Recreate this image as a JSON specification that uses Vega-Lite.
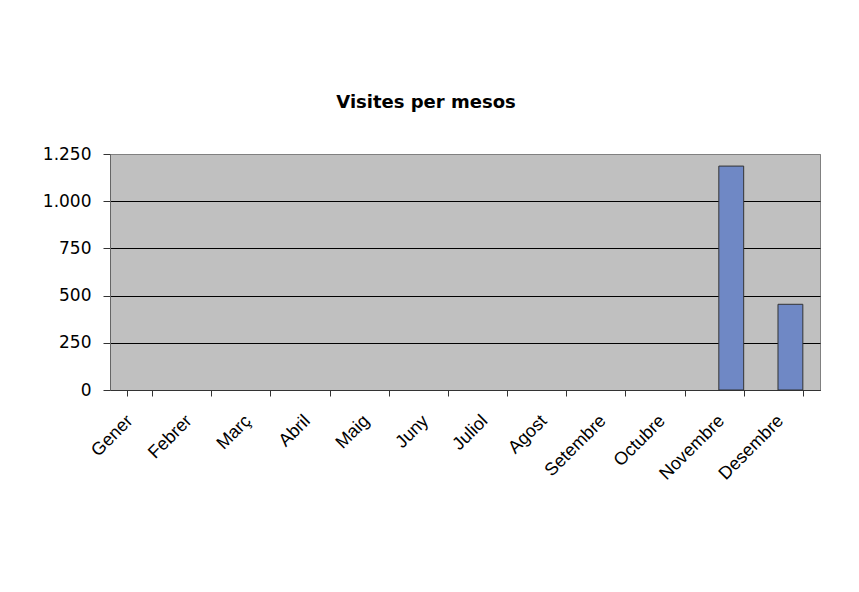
{
  "$schema": "https://vega.github.io/schema/vega-lite/v6.json",
  "width": 710,
  "height": 236,
  "autosize": {"type": "none"},
  "padding": {"left": 110, "top": 154, "right": 39, "bottom": 202},
  "background": "white",
  "title": {
    "text": "Visites per mesos",
    "font": "DejaVu Sans",
    "fontSize": 18,
    "fontWeight": "bold",
    "color": "black",
    "anchor": "middle",
    "dx": -39,
    "offset": 33
  },
  "data": {
    "values": [
      {"mes": "Gener", "visites": 0},
      {"mes": "Febrer", "visites": 0},
      {"mes": "Març", "visites": 0},
      {"mes": "Abril", "visites": 0},
      {"mes": "Maig", "visites": 0},
      {"mes": "Juny", "visites": 0},
      {"mes": "Juliol", "visites": 0},
      {"mes": "Agost", "visites": 0},
      {"mes": "Setembre", "visites": 0},
      {"mes": "Octubre", "visites": 0},
      {"mes": "Novembre", "visites": 1186},
      {"mes": "Desembre", "visites": 454}
    ]
  },
  "mark": {"type": "bar", "fill": "#6F88C5", "stroke": "#333333", "strokeWidth": 1},
  "encoding": {
    "x": {
      "field": "mes",
      "type": "nominal",
      "sort": null,
      "scale": {"paddingInner": 0.58, "paddingOuter": 0.29},
      "axis": {
        "title": null,
        "labelAngle": -45,
        "labelAlign": "right",
        "labelBaseline": "middle",
        "labelFont": "Liberation Sans",
        "labelFontSize": 18,
        "labelColor": "black",
        "labelOffset": -10,
        "labelPadding": 22,
        "tickBand": "extent",
        "tickColor": "#333333",
        "tickSize": 6,
        "domainColor": "#333333"
      }
    },
    "y": {
      "field": "visites",
      "type": "quantitative",
      "scale": {"domain": [0, 1250], "nice": false},
      "axis": {
        "title": null,
        "values": [0, 250, 500, 750, 1000, 1250],
        "labelExpr": "replace(format(datum.value, ','), ',', '.')",
        "labelFont": "DejaVu Sans",
        "labelFontSize": 17,
        "labelColor": "black",
        "labelPadding": 12,
        "tickColor": "#333333",
        "tickSize": 7,
        "domainColor": "#666666",
        "grid": true,
        "gridColor": {"condition": {"test": "datum.value == 1250", "value": "#808080"}, "value": "#000000"},
        "gridOpacity": 1,
        "gridWidth": 1
      }
    },
    "strokeOpacity": {
      "condition": {"test": "datum.visites == 0", "value": 0},
      "value": 1
    }
  },
  "config": {
    "view": {"fill": "#C0C0C0", "stroke": "#808080", "strokeWidth": 1},
    "axis": {"labelOverlap": false}
  }
}
